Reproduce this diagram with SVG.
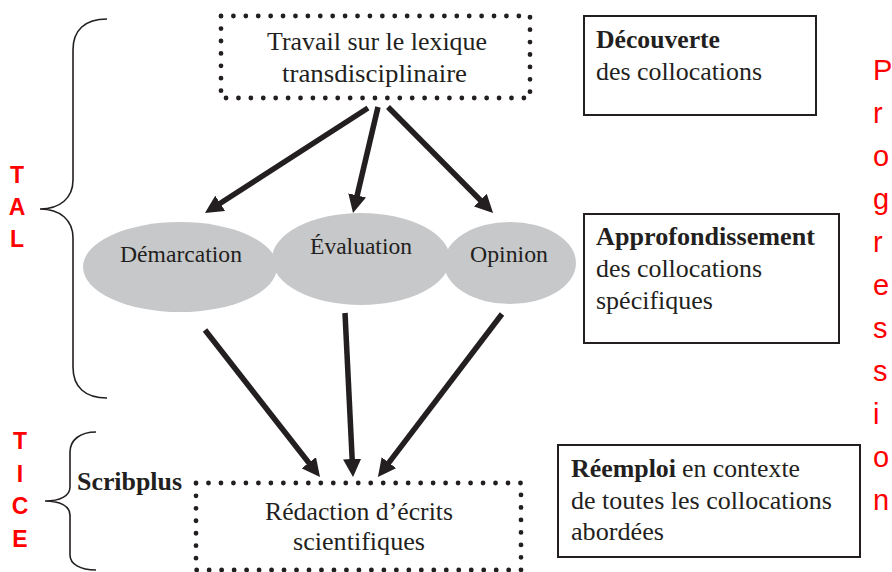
<svg xmlns="http://www.w3.org/2000/svg" width="892" height="572" viewBox="0 0 892 572">
<defs>
<style>
.t{font-family:"Liberation Serif","Times New Roman",serif;font-size:25px;fill:#231f20}
.e{font-size:23px}
.b{font-weight:bold}
.red{font-family:"Liberation Sans",Arial,sans-serif;fill:#ff0000}
.side{font-size:23px;font-weight:bold;text-anchor:middle}
.prog{font-size:29px}
.dot{fill:none;stroke:#231f20;stroke-width:4.8;stroke-linecap:round}
.box{fill:#ffffff;stroke:#231f20;stroke-width:2}
.ell{fill:#c7c8ca}
.brace{fill:none;stroke:#231f20;stroke-width:1.6}
.arr{stroke:#231f20;stroke-width:5.5;fill:none;marker-end:url(#ah)}
</style>
<marker id="ah" viewBox="0 0 10 10" refX="4" refY="5" markerWidth="3.3" markerHeight="3.3" orient="auto" markerUnits="strokeWidth">
<path d="M0,0 L10,5 L0,10 z" fill="#231f20"/>
</marker>
</defs>
<rect width="892" height="572" fill="#ffffff"/>

<g id="tal-brace">
<path class="brace" d="M107,19 C85,19 73,30 73,50 L73,180 C73,198 60,209 40,209 C60,209 73,220 73,238 L73,367 C73,387 85,398 107,398"/>
<text class="red side" x="17" y="183">T</text>
<text class="red side" x="17" y="215">A</text>
<text class="red side" x="17" y="247">L</text>
</g>

<g id="tice-brace">
<path class="brace" d="M96,432 C80,432 70,440 70,452 L70,487 C70,496 60,501 45,501 C60,501 70,506 70,515 L70,555 C70,564 80,570 96,570"/>
<text class="red side" x="20" y="449">T</text>
<text class="red side" x="20" y="482">I</text>
<text class="red side" x="20" y="514">C</text>
<text class="red side" x="20" y="547">E</text>
<text class="t b" x="77" y="490" textLength="105" lengthAdjust="spacingAndGlyphs">Scribplus</text>
</g>

<g id="node-travail">
<rect class="dot" x="221" y="16" width="309" height="82" stroke-dasharray="0 12.41"/>
<text class="t" x="267" y="50" textLength="220" lengthAdjust="spacingAndGlyphs">Travail sur le lexique</text>
<text class="t" x="282" y="82" textLength="185" lengthAdjust="spacingAndGlyphs">transdisciplinaire</text>
</g>

<g id="node-demarcation">
<ellipse class="ell" cx="180" cy="267" rx="97" ry="45"/>
<text class="t e" x="120" y="262" textLength="122" lengthAdjust="spacingAndGlyphs">Démarcation</text>
</g>
<g id="node-opinion">
<ellipse class="ell" cx="510" cy="263" rx="66" ry="41"/>
<text class="t e" x="470" y="262" textLength="78" lengthAdjust="spacingAndGlyphs">Opinion</text>
</g>
<g id="node-evaluation">
<ellipse class="ell" cx="361" cy="259" rx="89" ry="46"/>
<text class="t e" x="310" y="254" textLength="102" lengthAdjust="spacingAndGlyphs">Évaluation</text>
</g>

<g id="node-redaction">
<rect class="dot" x="196" y="483" width="325" height="87" stroke-dasharray="0 12.48"/>
<text class="t" x="265" y="520" textLength="188" lengthAdjust="spacingAndGlyphs">Rédaction d’écrits</text>
<text class="t" x="293" y="550" textLength="132" lengthAdjust="spacingAndGlyphs">scientifiques</text>
</g>

<g id="connectors">
<line class="arr" x1="368" y1="108" x2="214.1" y2="207.2"/>
<line class="arr" x1="378" y1="107" x2="355.5" y2="202.5"/>
<line class="arr" x1="388" y1="107" x2="485.4" y2="205.3"/>
<line class="arr" x1="205" y1="330" x2="313.3" y2="468.5"/>
<line class="arr" x1="345" y1="313" x2="352.5" y2="466.2"/>
<line class="arr" x1="502" y1="314" x2="384.5" y2="468.4"/>
</g>

<g id="box-decouverte">
<rect class="box" x="584" y="16" width="232" height="99"/>
<text class="t b" x="596" y="48" textLength="124" lengthAdjust="spacingAndGlyphs">Découverte</text>
<text class="t" x="596" y="80" textLength="166" lengthAdjust="spacingAndGlyphs">des collocations</text>
</g>

<g id="box-approfondissement">
<rect class="box" x="584" y="214" width="255" height="129"/>
<text class="t b" x="596" y="245" textLength="219" lengthAdjust="spacingAndGlyphs">Approfondissement</text>
<text class="t" x="596" y="277" textLength="166" lengthAdjust="spacingAndGlyphs">des collocations</text>
<text class="t" x="596" y="309" textLength="117" lengthAdjust="spacingAndGlyphs">spécifiques</text>
</g>

<g id="box-reemploi">
<rect class="box" x="558" y="445" width="302" height="112"/>
<text class="t b" x="571" y="477" textLength="105" lengthAdjust="spacingAndGlyphs">Réemploi</text>
<text class="t" x="682" y="477" textLength="118" lengthAdjust="spacingAndGlyphs">en contexte</text>
<text class="t" x="571" y="509" textLength="261" lengthAdjust="spacingAndGlyphs">de toutes les collocations</text>
<text class="t" x="571" y="540" textLength="93" lengthAdjust="spacingAndGlyphs">abordées</text>
</g>

<g id="progression">
<text class="red prog" x="873" y="80">P</text>
<text class="red prog" x="873" y="123">r</text>
<text class="red prog" x="873" y="166">o</text>
<text class="red prog" x="873" y="209">g</text>
<text class="red prog" x="873" y="252">r</text>
<text class="red prog" x="873" y="295">e</text>
<text class="red prog" x="873" y="338">s</text>
<text class="red prog" x="873" y="381">s</text>
<text class="red prog" x="873" y="424">i</text>
<text class="red prog" x="873" y="467">o</text>
<text class="red prog" x="873" y="510">n</text>
</g>
</svg>
